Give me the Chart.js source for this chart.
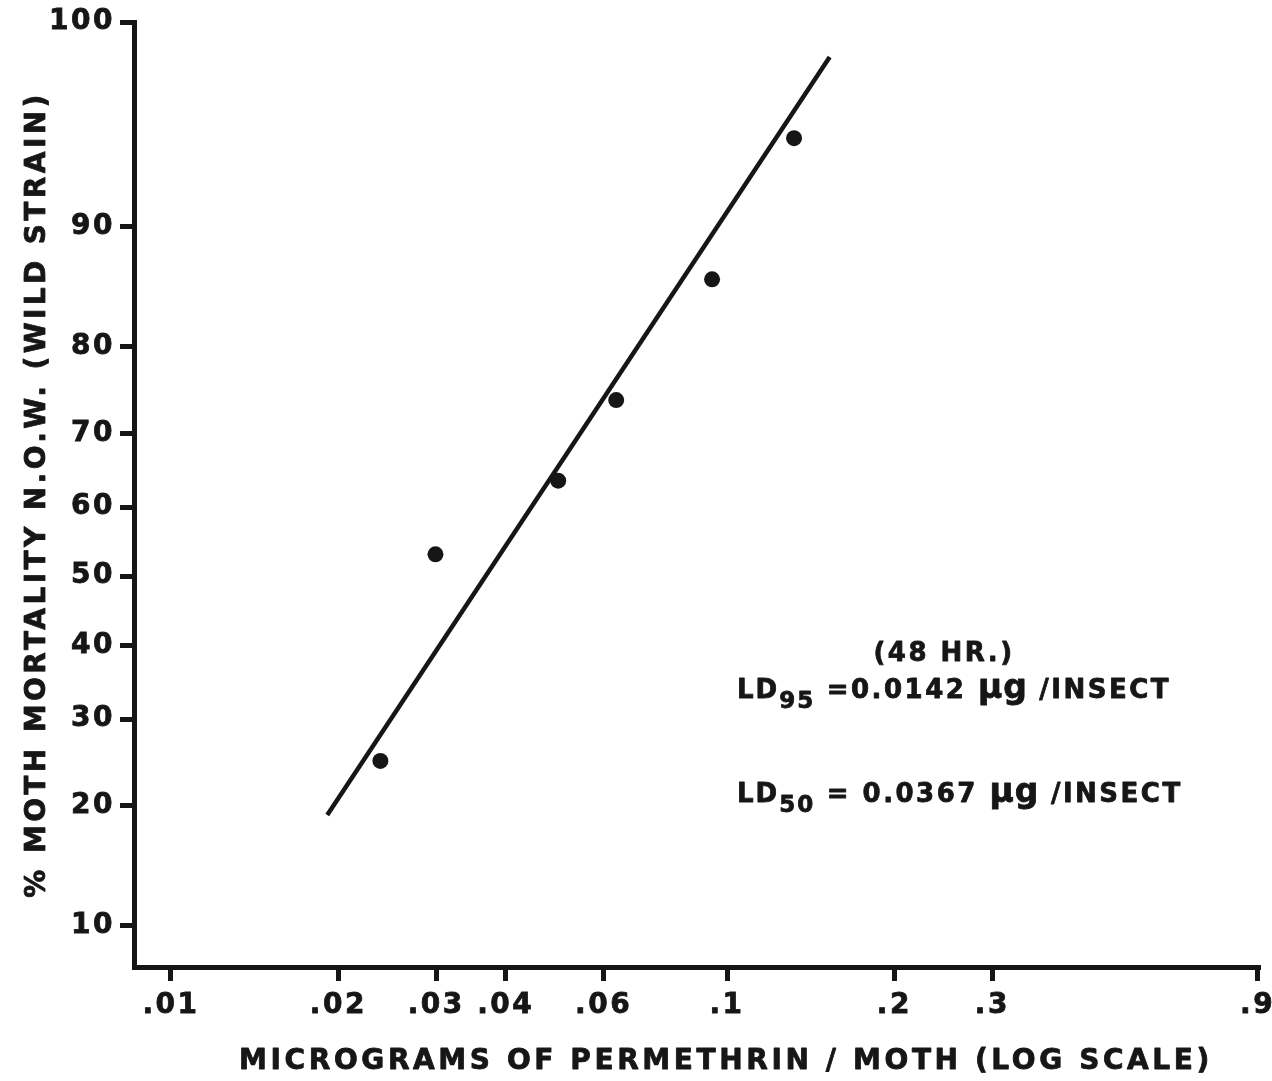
<!DOCTYPE html>
<html>
<head>
<meta charset="utf-8">
<title>Permethrin dose–mortality, N.O.W. moths (wild strain)</title>
<script src="https://cdn.jsdelivr.net/npm/chart.js@4.4.1/dist/chart.umd.min.js"></script>
<style>
  html, body { margin: 0; padding: 0; background: #ffffff; }
  #wrap { position: relative; width: 1272px; height: 1081px; }
</style>
</head>
<body>
<div id="wrap"><canvas id="chart"></canvas></div>
<script>
// Dose of permethrin (µg per moth) and 48-hour mortality (%) of wild-strain moths
const doses = [0.0238, 0.0299, 0.0497, 0.0632, 0.0940, 0.132];
const mortality = [24.9, 53.2, 63.7, 74.1, 86.2, 94.6];

// Probit regression line, first and last point
const fitDoses = [0.0191, 0.153];
const fitMortality = [19.05, 97.16];

// Axis ticks
const xTickValues = [0.01, 0.02, 0.03, 0.04, 0.06, 0.1, 0.2, 0.3, 0.9];
const xTickLabels = ['.01', '.02', '.03', '.04', '.06', '.1', '.2', '.3', '.9'];
const yTickValues = [10, 20, 30, 40, 50, 60, 70, 80, 90, 100];
const yTickLabels = ['10', '20', '30', '40', '50', '60', '70', '80', '90', '100'];

// Texts
const xTitle = 'MICROGRAMS OF PERMETHRIN / MOTH (LOG SCALE)';
const yTitle = '% MOTH MORTALITY N.O.W. (WILD STRAIN)';
const noteHours = '(48 HR.)';
const noteLD95 = { sub: '95', value: ' =0.0142 ', unit: 'µg', per: ' /INSECT' };
const noteLD50 = { sub: '50', value: ' = 0.0367 ', unit: 'µg', per: ' /INSECT' };

const INK = '#161616';
const FONT = '"DejaVu Sans", "Liberation Sans", Arial, sans-serif';

// Inverse of the standard normal distribution (Acklam's rational approximation)
function probit(p) {
  const a = [-3.969683028665376e+01, 2.209460984245205e+02, -2.759285104469687e+02, 1.383577518672690e+02, -3.066479806614716e+01, 2.506628277459239e+00];
  const b = [-5.447609879822406e+01, 1.615858368580409e+02, -1.556989798598866e+02, 6.680131188771972e+01, -1.328068155288572e+01];
  const c = [-7.784894002430293e-03, -3.223964580411365e-01, -2.400758277161838e+00, -2.549732539343734e+00, 4.374664141464968e+00, 2.938163982698783e+00];
  const d = [7.784695709041462e-03, 3.224671290700398e-01, 2.445134137142996e+00, 3.754408661907416e+00];
  const lo = 0.02425, hi = 1 - lo;
  let q, r;
  if (p < lo) {
    q = Math.sqrt(-2 * Math.log(p));
    return (((((c[0] * q + c[1]) * q + c[2]) * q + c[3]) * q + c[4]) * q + c[5]) /
           ((((d[0] * q + d[1]) * q + d[2]) * q + d[3]) * q + 1);
  }
  if (p <= hi) {
    q = p - 0.5; r = q * q;
    return (((((a[0] * r + a[1]) * r + a[2]) * r + a[3]) * r + a[4]) * r + a[5]) * q /
           (((((b[0] * r + b[1]) * r + b[2]) * r + b[3]) * r + b[4]) * r + 1);
  }
  q = Math.sqrt(-2 * Math.log(1 - p));
  return -(((((c[0] * q + c[1]) * q + c[2]) * q + c[3]) * q + c[4]) * q + c[5]) /
           ((((d[0] * q + d[1]) * q + d[2]) * q + d[3]) * q + 1);
}

// Standard normal CDF (Abramowitz–Stegun 7.1.26 via erf)
function normCdf(z) {
  const t = 1 / (1 + 0.3275911 * Math.abs(z) / Math.SQRT2);
  const y = 1 - (((((1.061405429 * t - 1.453152027) * t) + 1.421413741) * t - 0.284496736) * t + 0.254829592) * t *
            Math.exp(-z * z / 2);
  return z >= 0 ? (1 + y) / 2 : (1 - y) / 2;
}

// Probability (probit) axis: percentages placed by their normal deviate.
// The top of the axis stands for 100 %.
class ProbitScale extends Chart.LinearScale {
  configure() {
    super.configure();
    this._zLo = probit(this.min / 100);
    this._zHi = probit(this.max / 100);
  }
  getPixelForValue(value) {
    const v = Math.min(Math.max(value, this.min), this.max);
    return this.getPixelForDecimal((probit(v / 100) - this._zLo) / (this._zHi - this._zLo));
  }
  getValueForPixel(pixel) {
    return 100 * normCdf(this._zLo + this.getDecimalForPixel(pixel) * (this._zHi - this._zLo));
  }
}
ProbitScale.id = 'probit';
ProbitScale.defaults = Chart.LinearScale.defaults;
Chart.register(ProbitScale);

// Letter-spaced, slightly heavy axis lettering
const lettering = {
  x: { labels: '2.5px', title: '3.6px', shift: 29 },
  y: { labels: '2.5px', title: '3.4px', shift: 0 }
};
const letteringPlugin = {
  id: 'lettering',
  afterLayout(chart) {
    const ctx = chart.ctx;
    for (const id of Object.keys(lettering)) {
      const scale = chart.scales[id];
      if (!scale || scale.__lettered) continue;
      scale.__lettered = true;
      const spec = lettering[id];
      const drawLabels = scale.drawLabels;
      const drawTitle = scale.drawTitle;
      scale.drawLabels = function (area) {
        ctx.save(); ctx.letterSpacing = spec.labels; drawLabels.call(this, area); ctx.restore();
      };
      scale.drawTitle = function () {
        ctx.save();
        ctx.letterSpacing = spec.title;
        ctx.translate(spec.shift, 0);
        ctx.strokeStyle = INK;
        ctx.lineWidth = 0.8;
        ctx.lineJoin = 'round';
        const fill = ctx.fillText;
        ctx.fillText = function (t, x, y, m) {
          if (m === undefined) { ctx.strokeText(t, x, y); fill.call(ctx, t, x, y); }
          else { ctx.strokeText(t, x, y, m); fill.call(ctx, t, x, y, m); }
        };
        drawTitle.call(this);
        delete ctx.fillText;
        ctx.restore();
      };
    }
  }
};

// LD notes in the lower right
function drawNote(ctx, x, y, note) {
  const main = 'bold 26px ' + FONT;
  const sub = 'bold 23px ' + FONT;
  const big = 'bold 33px ' + FONT;
  const runs = [
    ['LD', main, 0, '2px'],
    [note.sub, sub, 10, '2px'],
    [note.value, main, 0, '2.5px'],
    [note.unit, big, 0, '1px'],
    [note.per, main, 0, '2.5px']
  ];
  let cx = x;
  for (const [text, font, dy, ls] of runs) {
    ctx.font = font;
    ctx.letterSpacing = ls;
    ctx.strokeText(text, cx, y + dy);
    ctx.fillText(text, cx, y + dy);
    cx += ctx.measureText(text).width;
  }
}
const notesPlugin = {
  id: 'notes',
  afterDraw(chart) {
    const ctx = chart.ctx;
    ctx.save();
    ctx.fillStyle = INK;
    ctx.strokeStyle = INK;
    ctx.lineWidth = 0.8;
    ctx.lineJoin = 'round';
    ctx.textBaseline = 'alphabetic';
    ctx.textAlign = 'center';
    ctx.letterSpacing = '2.5px';
    ctx.font = 'bold 26px ' + FONT;
    ctx.strokeText(noteHours, 944, 661);
    ctx.fillText(noteHours, 944, 661);
    ctx.textAlign = 'left';
    drawNote(ctx, 737, 698, noteLD95);
    drawNote(ctx, 737, 802, noteLD50);
    ctx.restore();
  }
};

const tickFont = { family: FONT, size: 28, weight: 'bold' };
const titleFont = { family: FONT, size: 28, weight: 'bold' };

new Chart(document.getElementById('chart'), {
  type: 'scatter',
  data: {
    datasets: [
      {
        label: 'Observed',
        data: doses.map((d, i) => ({ x: d, y: mortality[i] })),
        pointRadius: 8,
        pointBackgroundColor: INK,
        pointBorderColor: INK,
        pointBorderWidth: 0,
        showLine: false,
        order: 1
      },
      {
        label: 'Probit regression',
        type: 'line',
        data: fitDoses.map((d, i) => ({ x: d, y: fitMortality[i] })),
        borderColor: INK,
        borderWidth: 4.5,
        pointRadius: 0,
        fill: false,
        tension: 0,
        order: 2
      }
    ]
  },
  options: {
    responsive: true,
    maintainAspectRatio: false,
    animation: false,
    layout: { padding: { left: 0, right: 12, top: 22, bottom: 0 } },
    plugins: { legend: { display: false }, tooltip: { enabled: false } },
    scales: {
      x: {
        type: 'logarithmic',
        position: 'bottom',
        min: 0.00858,
        max: 0.909,
        afterBuildTicks: (s) => { s.ticks = xTickValues.map(v => ({ value: v })); },
        afterFit: (s) => { s.height = 114; s.paddingLeft = 0; s.paddingRight = 0; },
        ticks: {
          autoSkip: false,
          maxRotation: 0,
          minRotation: 0,
          padding: 8,
          color: INK,
          font: tickFont,
          textStrokeColor: INK,
          textStrokeWidth: 0.8,
          callback: (v, i) => xTickLabels[i]
        },
        grid: { drawOnChartArea: false, drawTicks: true, tickLength: 14, tickWidth: 5, tickColor: INK },
        border: { display: true, width: 5, color: INK },
        title: { display: true, text: xTitle, color: INK, font: titleFont, padding: { top: 0, bottom: 2 } }
      },
      y: {
        type: 'probit',
        position: 'left',
        min: 7.58,
        max: 97.9,
        afterBuildTicks: (s) => { s.ticks = yTickValues.map(v => ({ value: v })); },
        afterFit: (s) => { s.width = 134; s.paddingTop = 0; s.paddingBottom = 0; },
        ticks: {
          autoSkip: false,
          padding: 5,
          color: INK,
          font: tickFont,
          textStrokeColor: INK,
          textStrokeWidth: 0.8,
          callback: (v, i) => yTickLabels[i]
        },
        grid: { drawOnChartArea: false, drawTicks: true, tickLength: 14, tickWidth: 5, tickColor: INK },
        border: { display: true, width: 5, color: INK },
        title: { display: true, text: yTitle, color: INK, font: titleFont, padding: { top: 21, bottom: 0 } }
      }
    }
  },
  plugins: [letteringPlugin, notesPlugin]
});
</script>
</body>
</html>
